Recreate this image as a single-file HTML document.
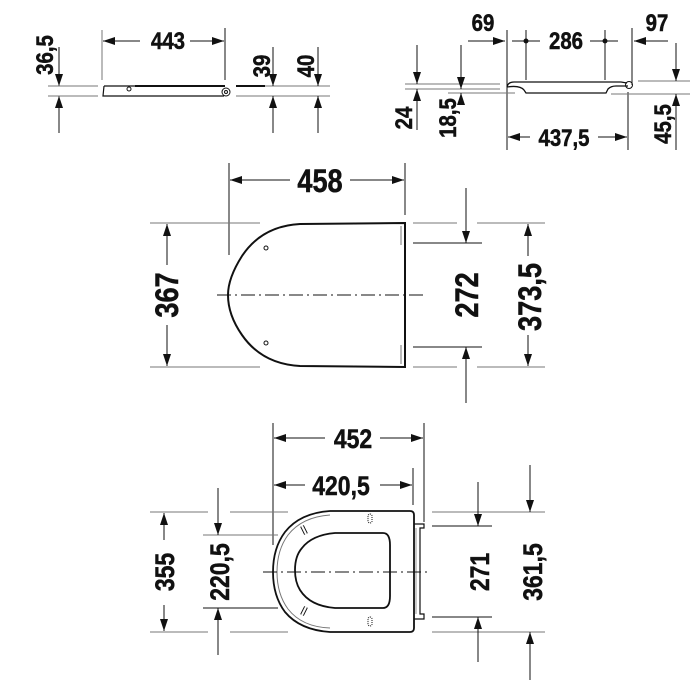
<!DOCTYPE html>
<html><head><meta charset="utf-8"><style>
html,body{margin:0;padding:0;background:#fff}
svg{display:block}
text{font-family:"Liberation Sans Narrow","Liberation Sans",sans-serif;font-weight:bold;fill:#111;stroke:#111;stroke-width:0.5}
</style></head><body>
<svg width="700" height="700" viewBox="0 0 700 700" xmlns="http://www.w3.org/2000/svg">
<defs>
<marker id="a" markerWidth="12" markerHeight="8" refX="12" refY="4" orient="auto" markerUnits="userSpaceOnUse">
<path d="M0,0 L12,4 L0,8 Z" fill="#111"/></marker>
</defs>
<g stroke="#111" stroke-width="1" fill="none">
<line x1="59" y1="47" x2="59" y2="86" marker-end="url(#a)"/>
<line x1="59" y1="133" x2="59" y2="96" marker-end="url(#a)"/>
<line x1="48" y1="86" x2="98" y2="86" stroke="#777"/>
<line x1="48" y1="96" x2="98" y2="96" stroke="#777"/>
<line x1="102" y1="30" x2="102" y2="80" stroke="#777"/>
<line x1="225" y1="28" x2="225" y2="80"/>
<line x1="140" y1="41" x2="103" y2="41" marker-end="url(#a)"/>
<line x1="190" y1="41" x2="224" y2="41" marker-end="url(#a)"/>
<path d="M104,86 L225,86 M104,86 L103,96 L224,96" stroke-width="1.2"/>
<line x1="135" y1="86" x2="225" y2="86" stroke-width="2"/>
<circle cx="129" cy="89" r="2"/>
<circle cx="226" cy="92" r="4"/><circle cx="226" cy="92" r="1.5"/>
<line x1="236" y1="86" x2="330" y2="86" stroke="#777"/>
<line x1="236" y1="96" x2="330" y2="96" stroke="#777"/>
<line x1="236" y1="86" x2="265" y2="86" stroke-width="2"/>
<line x1="273" y1="47" x2="273" y2="86" marker-end="url(#a)"/>
<line x1="273" y1="133" x2="273" y2="96" marker-end="url(#a)"/>
<line x1="318" y1="47" x2="318" y2="86" marker-end="url(#a)"/>
<line x1="318" y1="133" x2="318" y2="96" marker-end="url(#a)"/>
<line x1="468" y1="41" x2="505" y2="41" marker-end="url(#a)"/>
<line x1="507" y1="30" x2="507" y2="150"/>
<line x1="526" y1="30" x2="526" y2="80"/>
<line x1="605" y1="30" x2="605" y2="80"/>
<line x1="512" y1="41" x2="540" y2="41"/>
<line x1="590" y1="41" x2="618" y2="41"/>
<circle cx="526" cy="41" r="2" fill="#111"/><circle cx="605" cy="41" r="2" fill="#111"/>
<line x1="668" y1="41" x2="634" y2="41" marker-end="url(#a)"/>
<line x1="632" y1="28" x2="632" y2="85"/>
<line x1="628" y1="92" x2="628" y2="150"/>
<path d="M507,87 Q508,82 514,82 L621,82 L627,83 M507,87 Q520,85 524,90 L526,93 L606,93 L608,89 Q611,86 616,86 L628,86" stroke-width="1.3"/>
<circle cx="629" cy="85" r="3.5"/>
<line x1="405" y1="84" x2="500" y2="84" stroke="#777"/>
<line x1="405" y1="89" x2="500" y2="89" stroke="#777"/>
<line x1="448" y1="93" x2="515" y2="93" stroke="#777"/>
<line x1="417" y1="45" x2="417" y2="84" marker-end="url(#a)"/>
<line x1="417" y1="130" x2="417" y2="89" marker-end="url(#a)"/>
<line x1="461" y1="45" x2="461" y2="89" marker-end="url(#a)"/>
<line x1="461" y1="100" x2="461" y2="93" marker-end="url(#a)"/>
<line x1="638" y1="81" x2="690" y2="81" stroke="#777"/>
<line x1="611" y1="94" x2="690" y2="94" stroke="#777"/>
<line x1="676" y1="43" x2="676" y2="81" marker-end="url(#a)"/>
<line x1="676" y1="150" x2="676" y2="94" marker-end="url(#a)"/>
<line x1="530" y1="137" x2="508" y2="137" marker-end="url(#a)"/>
<line x1="598" y1="137" x2="627" y2="137" marker-end="url(#a)"/>
<line x1="229" y1="163" x2="229" y2="255"/>
<line x1="405" y1="163" x2="405" y2="215"/>
<line x1="290" y1="180" x2="230" y2="180" marker-end="url(#a)"/>
<line x1="350" y1="180" x2="404" y2="180" marker-end="url(#a)"/>
<path d="M405,223 L300,224 Q262,226 242,256 Q228,278 228,295 Q228,315 242,335 Q262,364 300,366 L405,367 Z" stroke-width="2"/>
<line x1="401" y1="226" x2="401" y2="245" stroke="#777"/>
<line x1="401" y1="345" x2="401" y2="364" stroke="#777"/>
<circle cx="266" cy="248" r="2"/><circle cx="266" cy="343" r="2"/>
<line x1="217" y1="295" x2="427" y2="295" stroke-dasharray="14,4,2,4"/>
<line x1="150" y1="223" x2="260" y2="223" stroke="#777"/>
<line x1="150" y1="367" x2="260" y2="367" stroke="#777"/>
<line x1="167" y1="265" x2="167" y2="224" marker-end="url(#a)"/>
<line x1="167" y1="325" x2="167" y2="366" marker-end="url(#a)"/>
<line x1="413" y1="223" x2="457" y2="223" stroke="#777"/>
<line x1="413" y1="243" x2="482" y2="243"/>
<line x1="413" y1="347" x2="482" y2="347"/>
<line x1="413" y1="367" x2="457" y2="367" stroke="#777"/>
<line x1="466" y1="188" x2="466" y2="243" marker-end="url(#a)"/>
<line x1="466" y1="403" x2="466" y2="347" marker-end="url(#a)"/>
<line x1="477" y1="223" x2="545" y2="223" stroke="#777"/>
<line x1="477" y1="367" x2="545" y2="367" stroke="#777"/>
<line x1="528" y1="256" x2="528" y2="224" marker-end="url(#a)"/>
<line x1="528" y1="335" x2="528" y2="366" marker-end="url(#a)"/>
<line x1="273" y1="423" x2="273" y2="545"/>
<line x1="424" y1="423" x2="424" y2="522"/>
<line x1="325" y1="438" x2="274" y2="438" marker-end="url(#a)"/>
<line x1="380" y1="438" x2="423" y2="438" marker-end="url(#a)"/>
<line x1="413" y1="468" x2="413" y2="505"/>
<line x1="305" y1="485" x2="274" y2="485" marker-end="url(#a)"/>
<line x1="380" y1="485" x2="412" y2="485" marker-end="url(#a)"/>
<path d="M410,511 L330,511 Q300,513 285,532 Q273,548 273,572 Q273,596 285,612 Q300,630 330,632 L410,632 Q414,632 414,628 L414,515 Q414,511 410,511 Z" stroke-width="1.8"/>
<path d="M330,515 Q302,517 288,535 Q277,550 277,572 Q277,594 288,609 Q302,627 330,628" stroke="#777"/>
<path d="M335,533 L383,533 Q390,533 390,545 L390,596 Q390,608 383,608 L335,608 Q310,606 300,590 Q295,582 295,570 Q295,556 302,548 Q312,535 335,533 Z" stroke-width="1.8"/>
<path d="M414,524 L424,524 L424,528 L420,528 L420,614 L424,614 L424,619 L414,619" stroke-width="1.2"/>
<line x1="416" y1="528" x2="416" y2="614" stroke="#999"/>
<rect x="368" y="514" width="4" height="9" rx="2" stroke-dasharray="1,1"/>
<rect x="368" y="617" width="4" height="9" rx="2" stroke-dasharray="1,1"/>
<line x1="302" y1="526" x2="306" y2="534" stroke-width="4" stroke="#111"/>
<line x1="302" y1="526" x2="306" y2="534" stroke-width="2" stroke="#fff"/>
<line x1="302" y1="615" x2="306" y2="607" stroke-width="4" stroke="#111"/>
<line x1="302" y1="615" x2="306" y2="607" stroke-width="2" stroke="#fff"/>
<line x1="263" y1="572" x2="428" y2="572" stroke-dasharray="14,4,2,4"/>
<line x1="150" y1="512" x2="208" y2="512" stroke="#777"/>
<line x1="230" y1="512" x2="288" y2="512" stroke="#777"/>
<line x1="150" y1="632" x2="208" y2="632" stroke="#777"/>
<line x1="230" y1="632" x2="288" y2="632" stroke="#777"/>
<line x1="164" y1="540" x2="164" y2="513" marker-end="url(#a)"/>
<line x1="164" y1="605" x2="164" y2="631" marker-end="url(#a)"/>
<line x1="203" y1="535" x2="278" y2="535" stroke="#777"/>
<line x1="203" y1="608" x2="278" y2="608"/>
<line x1="218" y1="488" x2="218" y2="535" marker-end="url(#a)"/>
<line x1="218" y1="655" x2="218" y2="608" marker-end="url(#a)"/>
<line x1="432" y1="512" x2="490" y2="512" stroke="#777"/>
<line x1="432" y1="526" x2="492" y2="526"/>
<line x1="432" y1="617" x2="492" y2="617"/>
<line x1="432" y1="632" x2="490" y2="632" stroke="#777"/>
<line x1="478" y1="482" x2="478" y2="526" marker-end="url(#a)"/>
<line x1="478" y1="662" x2="478" y2="617" marker-end="url(#a)"/>
<line x1="487" y1="512" x2="545" y2="512" stroke="#777"/>
<line x1="487" y1="632" x2="545" y2="632" stroke="#777"/>
<line x1="530" y1="465" x2="530" y2="512" marker-end="url(#a)"/>
<line x1="530" y1="680" x2="530" y2="632" marker-end="url(#a)"/>
</g>
<g font-size="24">
<text transform="translate(168,49) scale(0.85,1)" text-anchor="middle">443</text>
<text transform="translate(53,55) rotate(-90) scale(0.85,1)" text-anchor="middle">36,5</text>
<text transform="translate(270,66) rotate(-90) scale(0.85,1)" text-anchor="middle">39</text>
<text transform="translate(314,66) rotate(-90) scale(0.85,1)" text-anchor="middle">40</text>
<text transform="translate(483,31) scale(0.85,1)" text-anchor="middle">69</text>
<text transform="translate(566,49) scale(0.85,1)" text-anchor="middle">286</text>
<text transform="translate(657,31) scale(0.85,1)" text-anchor="middle">97</text>
<text transform="translate(412,118) rotate(-90) scale(0.85,1)" text-anchor="middle">24</text>
<text transform="translate(456,118) rotate(-90) scale(0.85,1)" text-anchor="middle">18,5</text>
<text transform="translate(564,146) scale(0.85,1)" text-anchor="middle">437,5</text>
<text transform="translate(671,124) rotate(-90) scale(0.85,1)" text-anchor="middle">45,5</text>
</g>
<g font-size="32">
<text transform="translate(320,192) scale(0.85,1)" text-anchor="middle">458</text>
<text transform="translate(178,295) rotate(-90) scale(0.85,1)" text-anchor="middle">367</text>
<text transform="translate(478,295) rotate(-90) scale(0.85,1)" text-anchor="middle">272</text>
<text transform="translate(541,297) rotate(-90) scale(0.85,1)" text-anchor="middle">373,5</text>
</g>
<g font-size="27">
<text transform="translate(353,448) scale(0.85,1)" text-anchor="middle">452</text>
<text transform="translate(341,495) scale(0.85,1)" text-anchor="middle">420,5</text>
<text transform="translate(174,572) rotate(-90) scale(0.85,1)" text-anchor="middle">355</text>
<text transform="translate(229,572) rotate(-90) scale(0.85,1)" text-anchor="middle">220,5</text>
<text transform="translate(489,572) rotate(-90) scale(0.85,1)" text-anchor="middle">271</text>
<text transform="translate(542,572) rotate(-90) scale(0.85,1)" text-anchor="middle">361,5</text>
</g>
</svg>
</body></html>
